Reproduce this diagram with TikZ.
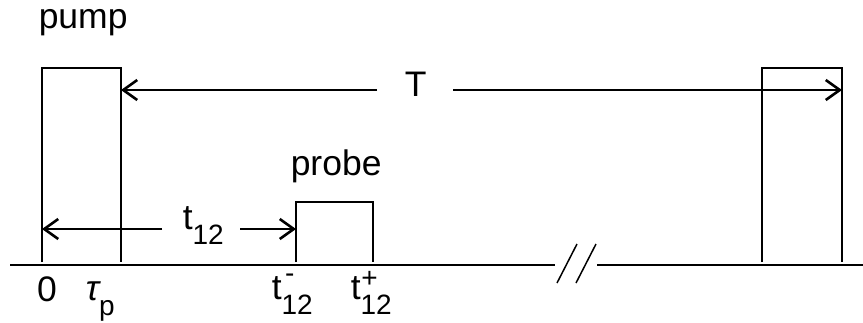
\documentclass[tikz,border=0pt]{standalone}
\usepackage{fontspec}
\setmainfont{Liberation Sans}
\usetikzlibrary{arrows.meta}
\newcommand{\lbfont}{\fontsize{35.5}{40}\selectfont}
\newcommand{\lbsmall}{\fontsize{28}{30}\selectfont}
\newcommand{\lbsub}[1]{\raisebox{-0.43em}{\lbsmall #1}}
% #1 superscript, #2 its raise, #3 its shift, #4 subscript
\newcommand{\lbsupsub}[4]{\makebox[0pt][l]{\hspace{#3}\raisebox{#2}{\lbsmall #1}}\raisebox{-0.43em}{\lbsmall #4}}
\begin{document}
\begin{tikzpicture}[x=1pt,y=-1pt,
  line width=1.5pt,
  lbl/.style={inner sep=0pt,font=\lbfont},
  darrow/.style={-{Straight Barb[length=14pt,width=20pt,line width=2.6pt]}},
  pulse/.style={line width=1.3pt}]
\useasboundingbox (0,0) rectangle (863,322);
% coordinates
\coordinate (axL) at (10,265);
\coordinate (brkL) at (555,265);
\coordinate (brkR) at (597,265);
\coordinate (axR) at (863,265);
\coordinate (p1bl) at (42,262); \coordinate (p1tl) at (42,68);
\coordinate (p1tr) at (121,68); \coordinate (p1br) at (121,262);
\coordinate (p2bl) at (762,262); \coordinate (p2tl) at (762,68);
\coordinate (p2tr) at (842,68); \coordinate (p2br) at (842,262);
\coordinate (pbbl) at (296,262); \coordinate (pbtl) at (296,202);
\coordinate (pbtr) at (373,202); \coordinate (pbbr) at (373,262);
% axis
\draw (axL) -- (brkL);
\draw (brkR) -- (axR);
\draw (557,283) -- (577,244);
\draw (576,283) -- (596,244);
% pulses
\draw[pulse] (p1bl) -- (p1tl) -- (p1tr) -- (p1br);
\draw[pulse] (p2bl) -- (p2tl) -- (p2tr) -- (p2br);
\draw[pulse] (pbbl) -- (pbtl) -- (pbtr) -- (pbbr);
% labels
\node[lbl,anchor=base west] (pump) at (38,28) {pump};
\node[lbl,anchor=base west] (probe) at (290,175) {probe};
\node[lbl,anchor=base west] (T) at (404,96) {T};
\node[lbl,anchor=base west] (t12) at (182,229) {t\lbsub{12}};
\node[lbl,anchor=base west] (zero) at (36.5,301) {0};
\node[lbl,anchor=base west] (taup) at (85,300) {\itshape τ\upshape\lbsub{p}};
\node[lbl,anchor=base west] (tm) at (271,299) {t\lbsupsub{-}{0.47em}{0.1em}{12}};
\node[lbl,anchor=base west] (tp) at (350,299) {t\lbsupsub{+}{0.32em}{0.02em}{12}};
% arrows
\coordinate (Ta) at (121,90); \coordinate (Tb) at (842,90);
\coordinate (Tl) at (377,90); \coordinate (Tr) at (453,90);
\draw[darrow] (Tl) -- (Ta);
\draw[darrow] (Tr) -- (Tb);
\coordinate (ta) at (42,229); \coordinate (tb) at (296,229);
\coordinate (tl) at (162,229); \coordinate (tr) at (240,229);
\draw[darrow] (tl) -- (ta);
\draw[darrow] (tr) -- (tb);
\end{tikzpicture}
\end{document}
